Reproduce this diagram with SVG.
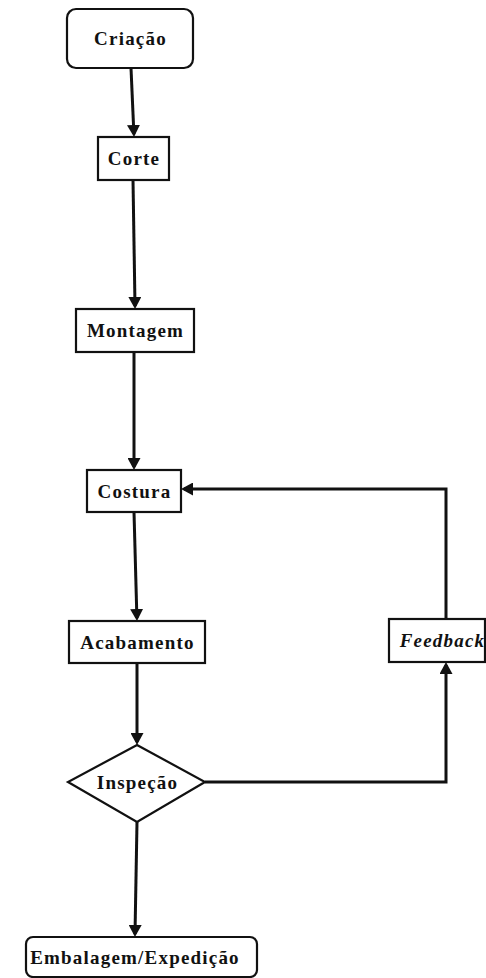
<svg xmlns="http://www.w3.org/2000/svg" width="486" height="978" viewBox="0 0 486 978">
<style>
.box{fill:#fff;stroke:#111;stroke-width:2.2}
.lbl{font-family:"Liberation Serif","Times New Roman",serif;font-weight:bold;font-size:19px;letter-spacing:1.2px;fill:#111;text-anchor:middle}
.it{font-style:italic}
.conn{fill:none;stroke:#111;stroke-width:3;marker-end:url(#ah)}
</style>
<defs>
<marker id="ah" markerUnits="userSpaceOnUse" markerWidth="13" markerHeight="13" refX="9" refY="6.5" orient="auto">
<path d="M0,0 L12,6.5 L0,13 z" fill="#111"/>
</marker>
</defs>
<rect width="486" height="978" fill="#fff"/>
<g id="connectors">
<line class="conn" x1="131" y1="68" x2="133.9" y2="134"/>
<line class="conn" x1="133" y1="180" x2="135" y2="306"/>
<line class="conn" x1="134" y1="352" x2="134" y2="467"/>
<line class="conn" x1="134" y1="512" x2="136.9" y2="618"/>
<line class="conn" x1="137" y1="663" x2="137" y2="742"/>
<line class="conn" x1="137" y1="822" x2="135" y2="934"/>
<polyline class="conn" points="205,782 446,782 446,665"/>
<polyline class="conn" points="446,619 446,489 184,489"/>
</g>
<g id="criacao">
<rect class="box" x="67" y="9" width="126" height="59" rx="9"/>
<text class="lbl" x="130.5" y="45">Criação</text>
</g>
<g id="corte">
<rect class="box" x="98" y="137" width="71" height="43"/>
<text class="lbl" x="134" y="165">Corte</text>
</g>
<g id="montagem">
<rect class="box" x="76" y="309" width="118" height="43"/>
<text class="lbl" x="135.5" y="337">Montagem</text>
</g>
<g id="costura">
<rect class="box" x="87" y="470" width="94" height="42"/>
<text class="lbl" x="134.5" y="497.5">Costura</text>
</g>
<g id="acabamento">
<rect class="box" x="69" y="621" width="136" height="42"/>
<text class="lbl" x="137.5" y="648.5">Acabamento</text>
</g>
<g id="feedback">
<rect class="box" x="389" y="619" width="96" height="43"/>
<text class="lbl it" x="442.5" y="647">Feedback</text>
</g>
<g id="inspecao">
<polygon class="box" points="137,745 205,782 137,822 68,782"/>
<text class="lbl" x="137.5" y="788.5">Inspeção</text>
</g>
<g id="embalagem">
<rect class="box" x="26" y="937" width="231" height="40" rx="7"/>
<text class="lbl" x="135" y="963.5">Embalagem/Expedição</text>
</g>
</svg>
